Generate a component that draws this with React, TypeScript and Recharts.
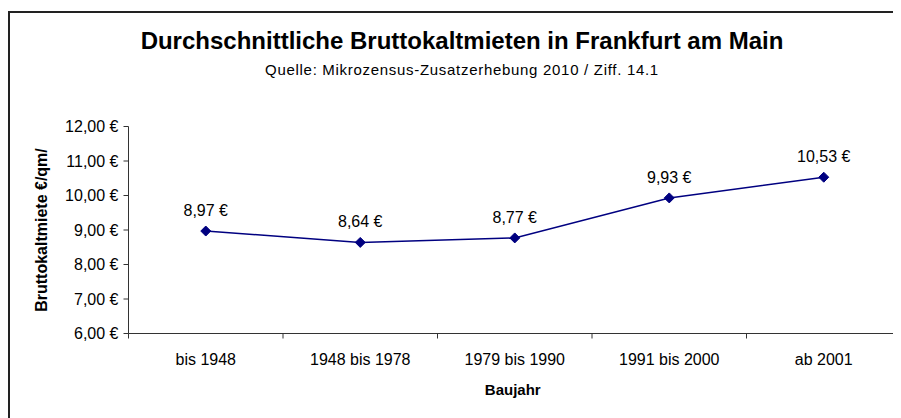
import { LineChart, Line, XAxis, YAxis, Label, LabelList } from 'recharts'

// Baujahr categories and average rents (Euro per qm)
const periods = ['bis 1948', '1948 bis 1978', '1979 bis 1990', '1991 bis 2000', 'ab 2001']
const rents = [8.97, 8.64, 8.77, 9.93, 10.53]
const rentTicks = [6, 7, 8, 9, 10, 11, 12]

// each category sits in the middle of its slot, tick marks on the slot edges
const data = periods.map((period, i) => ({ period, rent: rents[i], slot: i + 0.5 }))
const slotTicks: number[] = []
for (let i = 0; i <= periods.length; i++) {
  slotTicks.push(i)
  if (i < periods.length) slotTicks.push(i + 0.5)
}

const font = 'Liberation Sans, Arial, sans-serif'
const axisColor = '#333'
const lineColor = '#000080'

const euro = (v: number) => v.toFixed(2).replace('.', ',') + ' €'

const Diamond = (props: any) => {
  const { cx, cy } = props
  if (cx == null || cy == null) return null
  const r = 5
  return (
    <path
      d={`M${cx},${cy - r} L${cx + r},${cy} L${cx},${cy + r} L${cx - r},${cy} Z`}
      fill={lineColor}
      stroke={lineColor}
    />
  )
}

const SlotTick = (props: any) => {
  const { x, y, payload } = props
  const v = payload.value
  if (Number.isInteger(v)) {
    return <line x1={x} y1={y} x2={x} y2={y + 5} stroke={axisColor} />
  }
  return (
    <text x={x} y={y + 31} textAnchor="middle" fill="#000" fontSize={16} fontFamily={font}>
      {periods[Math.floor(v)]}
    </text>
  )
}

export default function App() {
  return (
    <div style={{ position: 'relative', width: 893, height: 410, overflow: 'hidden', fontFamily: font }}>
      <div
        style={{
          position: 'absolute',
          top: 3,
          left: 0,
          width: 900,
          height: 420,
          border: '2px solid #222',
        }}
      />
      <div
        style={{
          position: 'absolute',
          top: 21,
          left: 54,
          width: 800,
          textAlign: 'center',
          fontSize: 24,
          lineHeight: '24px',
          fontWeight: 'bold',
          whiteSpace: 'nowrap',
        }}
      >
        Durchschnittliche Bruttokaltmieten in Frankfurt am Main
      </div>
      <div
        style={{
          position: 'absolute',
          top: 54,
          left: 54,
          width: 800,
          textAlign: 'center',
          fontSize: 15,
          lineHeight: '15px',
          letterSpacing: 0.7,
          whiteSpace: 'nowrap',
        }}
      >
        Quelle: Mikrozensus-Zusatzerhebung 2010 / Ziff. 14.1
      </div>
      <div style={{ position: 'absolute', top: 0, left: 0 }}>
        <LineChart width={893} height={410} data={data} margin={{ top: 118.5, right: 0, bottom: 54.5, left: 0 }}>
          <XAxis
            type="number"
            dataKey="slot"
            domain={[0, periods.length]}
            ticks={slotTicks}
            interval={0}
            height={30}
            tickSize={0}
            tickMargin={0}
            tickLine={false}
            axisLine={{ stroke: axisColor, strokeWidth: 1 }}
            tick={<SlotTick />}
          >
            <Label
              value="Baujahr"
              position="bottom"
              offset={21}
              dx={-2}
              style={{ fontWeight: 'bold', fontSize: 15, fill: '#000', fontFamily: font }}
            />
          </XAxis>
          <YAxis
            domain={[6, 12]}
            ticks={rentTicks}
            interval={0}
            width={120.5}
            tickFormatter={euro}
            tickSize={5}
            tickMargin={5}
            axisLine={{ stroke: axisColor, strokeWidth: 1 }}
            tickLine={{ stroke: axisColor }}
            tick={{ fill: '#000', fontSize: 16, fontFamily: font }}
          >
            <Label
              value="Bruttokaltmiete €/qm/"
              angle={-90}
              position="insideLeft"
              offset={33}
              style={{ textAnchor: 'middle', fontWeight: 'bold', fontSize: 16, fill: '#000', fontFamily: font }}
            />
          </YAxis>
          <Line
            dataKey="rent"
            stroke={lineColor}
            strokeWidth={1.5}
            dot={<Diamond />}
            activeDot={false}
            isAnimationActive={false}
          >
            <LabelList
              dataKey="rent"
              position="top"
              offset={15}
              formatter={(v: any) => euro(Number(v))}
              style={{ fill: '#000', fontSize: 16, fontFamily: font }}
            />
          </Line>
        </LineChart>
      </div>
    </div>
  )
}
